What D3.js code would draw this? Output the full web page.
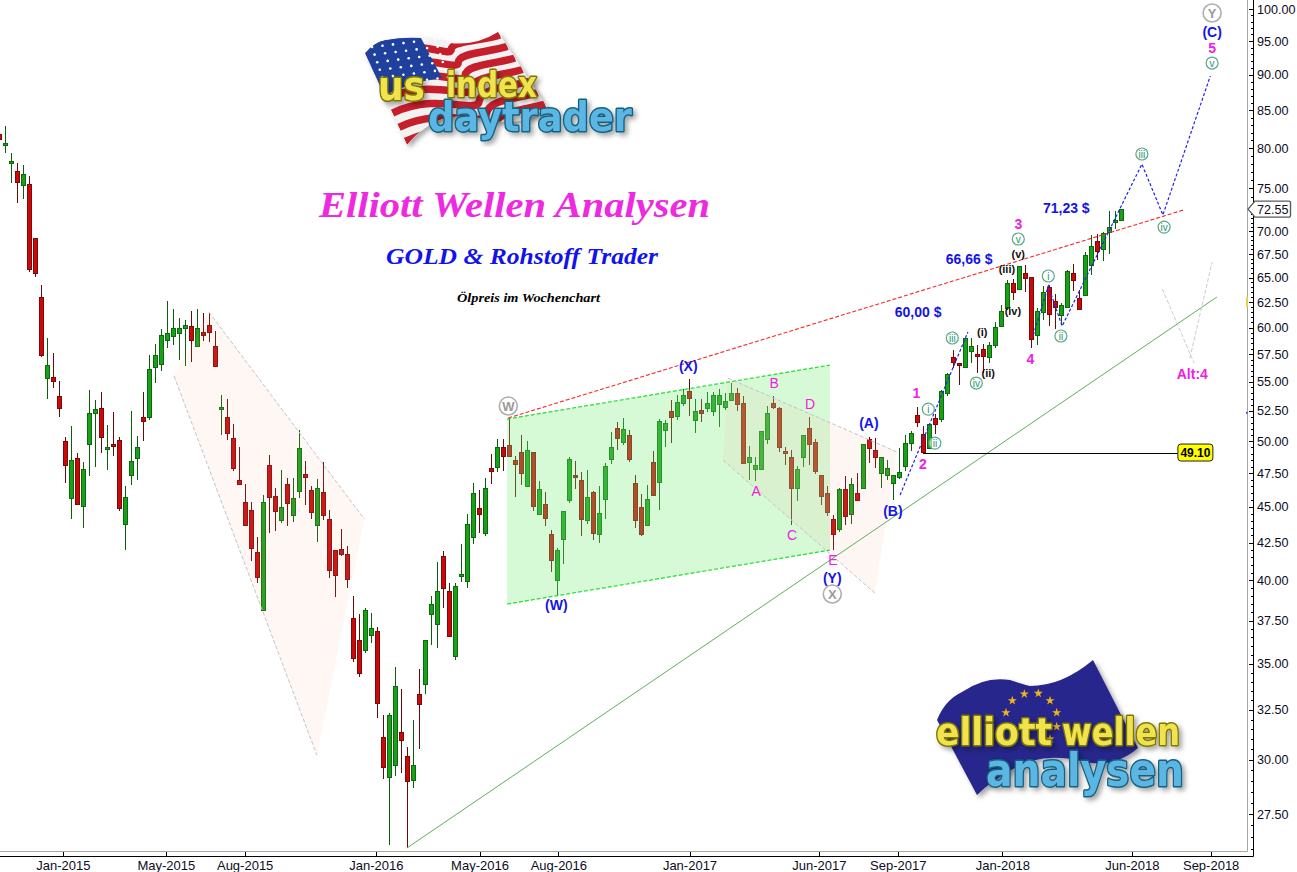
<!DOCTYPE html>
<html><head><meta charset="utf-8">
<script src="https://cdn.jsdelivr.net/npm/d3@7/dist/d3.min.js"></script>
<style>
html,body{margin:0;padding:0;background:#fff;overflow:hidden}
svg{display:block}
.axis text{font-family:"Liberation Sans",Arial,sans-serif;fill:#0c0c24}
.axis path{display:none}
.axis line{stroke:#000;shape-rendering:crispEdges}
</style></head><body>
<svg id="chart" width="1297" height="872"></svg>
<script>
// ---------- data: weekly oil price candles [open, high, low, close] ----------
const firstWeek = "2014-10-19";
const ohlc = [
[81.84,82.76,80.80,81.18],[80.40,82.89,79.38,80.60],[78.11,79.38,75.65,78.36],[77.12,78.11,73.27,75.77],
[75.40,77.86,73.74,76.75],[75.52,76.50,65.59,65.90],[69.26,69.26,65.06,65.48],[63.01,64.23,57.23,57.41],
[55.33,59.00,53.50,56.49],[55.41,57.59,54.45,55.06],[53.76,55.06,51.98,52.73],[50.01,50.33,46.76,48.12],
[45.65,51.23,44.13,48.51],[48.67,49.06,45.13,45.21],[45.06,48.36,43.50,47.82],[49.77,54.28,47.28,52.31],
[52.31,53.41,47.97,52.64],[52.73,54.11,49.06,50.33],[49.38,51.31,47.74,49.53],[49.77,52.39,48.82,49.61],
[50.09,50.33,44.70,44.91],[43.78,46.54,41.99,45.72],[47.36,52.48,46.61,48.43],[48.67,50.41,46.98,49.53],
[51.98,54.11,50.01,51.65],[51.98,57.41,51.73,56.13],[56.31,58.43,54.89,57.41],[56.58,59.86,55.95,59.28],
[58.81,62.61,58.06,59.47],[59.19,61.81,58.34,59.95],[59.47,60.93,56.95,59.95],[59.95,60.73,56.40,60.24],
[60.14,61.61,56.77,58.81],[58.25,61.81,58.15,59.95],[59.57,61.41,58.72,59.28],[60.24,61.41,58.62,59.57],
[58.25,59.66,56.40,56.40],[52.64,53.85,50.49,52.81],[51.98,53.50,50.09,50.66],[50.25,51.40,47.66,47.89],
[46.98,49.53,46.61,46.68],[45.35,46.68,43.64,43.71],[44.77,45.35,41.26,42.13],[41.86,42.88,39.83,40.21],
[38.14,45.87,38.08,45.35],[48.12,48.90,43.15,45.72],[45.79,46.39,43.29,44.70],[44.06,47.74,43.85,44.99],
[46.68,47.13,43.64,45.28],[44.42,47.13,43.92,45.65],[46.17,50.90,45.65,49.46],[47.43,48.43,45.13,47.21],
[46.24,46.54,44.13,44.63],[43.71,47.06,42.53,46.39],[46.09,48.36,44.06,44.42],[44.13,44.77,40.15,40.67],
[41.99,41.99,38.95,40.34],[42.06,43.43,41.59,41.72],[41.72,42.26,39.51,40.08],[37.65,39.01,35.09,35.31],
[36.35,37.89,34.26,34.48],[35.77,38.26,35.60,38.14],[36.64,37.95,36.18,37.05],[36.87,37.11,32.07,32.85],
[31.11,32.23,29.09,29.65],[29.18,32.33,26.16,32.23],[29.75,34.81,29.23,33.77],[31.36,33.60,29.37,30.96],
[30.17,30.62,26.04,29.00],[29.04,31.97,28.67,29.75],[33.33,34.70,30.52,32.80],[33.87,36.35,33.33,36.35],
[37.89,39.01,36.06,38.51],[37.29,41.19,35.89,39.32],[41.59,41.92,38.26,39.51],[39.32,39.83,36.58,36.58],
[35.43,39.83,35.20,39.63],[40.28,42.40,39.90,40.41],[39.96,44.49,39.51,43.78],[42.88,46.76,42.40,46.02],
[44.91,46.24,43.15,44.49],[43.15,47.13,42.95,46.39],[47.89,48.98,46.68,47.66],[47.97,50.17,47.59,49.53],
[49.53,50.17,47.66,48.82],[49.69,51.81,48.74,48.82],[48.51,48.82,45.72,48.20],[49.14,50.49,46.61,47.51],
[46.54,50.01,46.46,49.30],[49.14,49.14,44.70,45.06],[44.49,46.90,44.42,46.31],[45.21,46.09,43.64,44.20],
[43.08,43.36,40.54,41.32],[40.02,42.13,39.07,41.99],[42.74,44.70,41.06,44.70],[45.50,48.74,45.28,48.59],
[47.36,48.43,46.31,47.21],[46.98,47.59,42.95,44.13],[44.06,47.74,43.78,45.72],[46.09,46.17,42.67,43.15],
[43.08,46.54,42.46,44.56],[45.58,48.28,44.13,48.04],[48.59,50.74,48.20,49.53],[51.06,51.56,49.30,50.25],
[49.93,51.90,49.69,50.98],[50.49,50.90,48.36,48.59],[46.76,47.36,43.50,44.06],[44.99,45.94,42.95,43.08],
[43.71,46.61,43.64,45.58],[48.36,49.22,45.79,45.87],[46.83,51.81,44.77,51.65],[50.90,51.73,49.53,51.48],
[52.48,53.41,49.85,51.98],[52.06,53.85,51.73,53.24],[53.16,54.37,52.90,53.85],[54.19,55.24,52.06,53.58],
[51.73,53.50,50.66,52.48],[52.56,53.50,51.56,52.31],[52.73,54.11,52.39,53.16],[52.48,54.11,52.06,53.85],
[53.07,54.37,51.15,53.85],[52.81,54.02,52.56,53.33],[53.41,54.89,53.41,54.02],[54.02,54.45,52.48,53.07],
[53.16,53.76,48.20,48.28],[48.36,49.61,46.98,48.74],[47.82,48.74,46.90,48.12],[47.82,50.82,47.82,50.82],
[50.17,52.90,49.77,52.31],[53.16,53.76,52.64,52.81],[52.73,52.81,49.14,49.53],[49.22,49.53,48.12,49.06],
[48.74,49.30,43.71,46.39],[46.39,48.04,45.43,47.82],[48.74,50.49,47.97,50.49],[51.06,51.98,48.12,49.77],
[49.93,50.17,47.43,47.66],[47.36,47.36,45.13,45.79],[46.02,46.54,44.35,44.63],[44.13,44.42,41.99,43.08],
[43.43,46.39,43.22,46.31],[46.31,47.28,43.71,44.35],[44.49,47.13,43.78,46.68],[46.02,47.51,45.50,45.50],
[46.39,49.77,46.31,49.77],[50.17,50.33,48.28,49.46],[49.30,50.25,47.89,48.74],[47.51,48.74,46.39,48.74],
[47.36,48.51,46.98,47.89],[46.76,47.36,45.50,47.36],[47.21,49.46,47.06,47.59],[48.04,50.49,47.66,49.85],
[49.85,50.82,49.22,50.66],[52.14,52.81,51.15,51.56],[50.57,51.23,48.98,49.14],[49.46,51.40,49.46,51.40],
[51.90,52.23,50.57,51.40],[51.81,54.28,51.56,54.19],[54.02,55.77,53.76,55.68],[57.23,57.87,56.22,56.77],
[56.67,56.67,54.71,56.49],[56.31,59.00,56.22,59.00],[57.78,59.00,56.67,58.25],[57.50,58.34,55.77,57.32],
[57.96,58.43,55.77,57.32],[57.23,58.62,56.67,58.34],[58.34,60.53,58.06,60.05],[60.14,62.21,60.05,61.61],
[61.91,64.75,61.71,64.44],[64.44,64.85,62.71,63.52],[63.82,66.22,63.72,66.22],[65.48,66.33,63.52,64.96],
[65.06,65.06,58.06,58.91],[59.28,61.91,58.34,61.61],[61.51,64.13,60.73,63.52],[64.03,64.23,60.14,61.31],
[62.61,63.32,59.86,62.01],[61.21,62.41,60.34,62.21],[62.01,65.80,62.01,65.69],[65.48,66.43,63.62,64.75],
[62.91,63.72,61.71,61.81],[63.21,67.72,63.11,67.40],[66.33,69.59,65.27,68.38],[68.93,69.70,66.86,67.83],
[68.05,69.92,66.75,69.81],[69.92,72.32,67.50,70.49],[71.06,72.32,70.26,71.29],[71.29,72.55,71.18,72.55]
];
const dateTicks = ["2015-01-01","2015-05-01","2015-08-01","2016-01-01","2016-05-01","2016-08-01","2017-01-01","2017-06-01","2017-09-01","2018-01-01","2018-06-01","2018-09-01"];
const priceTicks = [100,95,90,85,80,75,70,67.5,65,62.5,60,57.5,55,52.5,50,47.5,45,42.5,40,37.5,35,32.5,30,27.5];
const lastPrice = 72.55;
const supportPrice = 49.10;

// annotation geometry, as [week index, price]
const greenChannel = [[84.6,51.81],[138.4,56.49],[138.4,41.99],[84.6,38.51]];
const wedgeOne = [[34.9,61.51],[60.8,44.13],[52.9,30.22],[29.1,55.51]];
const wedgeTwo = [[121.4,55.33],[149.6,49.14],[145.9,39.19],[120.6,48.51]];
const redTrend = [[84.8,51.90],[197.3,72.44]];
const greenTrend = [[67.9,26.04],[202.9,63.01]];
const supportWeeks = [154,196.4];
const waveA = [[150.1,45.87],[161.4,59.57]];
const waveB = [[172.3,59.28],[174.8,64.13],[177.1,60.14],[190.4,77.98],[193.9,71.87],[201.8,89.81]];
const altA = [[193.8,63.82],[199.1,56.67]];
const altB = [[198.4,57.14],[202.1,66.64]];

// labels as [text, week index, price]
const blueLabels = [["(W)",92.8,38.45],["(X)",114.8,56.40],["(Y)",138.8,40.15],["(A)",144.9,51.48],["(B)",148.9,44.70],["(C)",202.1,96.38],
  ["60,00 $",153.1,61.51],["66,66 $",161.6,66.97],["71,23 $",177.8,72.67]];
const magentaLetters = [["A",126.1,46.17],["B",129.1,54.89],["C",132.1,43.01],["D",135.1,53.07],["E",138.9,41.32]];
const magentaNumbers = [["1",152.8,54.02],["2",153.9,48.20],["3",169.8,70.83],["4",171.8,57.05],["5",202.1,93.94],["Alt:4",198.8,55.68]];
const blackLabels = [["(i)",163.8,59.57],["(ii)",164.8,55.77],["(iii)",167.9,65.90],["(iv)",168.9,61.61],["(v)",169.8,67.50]];
const tealCircles = [["i",154.8,52.64],["ii",155.9,49.85],["iii",158.8,59.00],["iv",162.8,54.89],["v",169.8,69.15],["i",174.8,65.17],["ii",176.9,59.19],["iii",190.4,79.25],["iv",194.1,70.49],["v",202.1,91.70]];
const grayCircles = [["W",84.8,52.90],["X",138.8,39.13],["Y",202.1,99.36]];

// ---------- scales ----------
const WEEK = 7*864e5;
const t0 = Date.parse(firstWeek+"T00:00:00Z");
const weekDate = k => new Date(t0 + k*WEEK);
const x = d3.scaleUtc().domain([weekDate(0),weekDate(100)]).range([-0.5,599.5]);
const y = d3.scaleLog().domain([100,27.5]).range([9,814]);
const xw = k => x(weekDate(k));
const line = d3.line().x(d=>xw(d[0])).y(d=>y(d[1]));
const closed = pts => line(pts)+"Z";
const svg = d3.select("#chart");
const sans = '"Liberation Sans",Arial,sans-serif';
const serif = '"Liberation Serif","Times New Roman",serif';

// ---------- candles ----------
const gC = svg.append("g");
const snap = v => Math.round(v-0.5)+0.5;
const candle = gC.selectAll("g").data(ohlc).join("g");
candle.append("line").attr("shape-rendering","crispEdges")
  .attr("x1",(d,i)=>snap(xw(i))).attr("x2",(d,i)=>snap(xw(i)))
  .attr("y1",d=>Math.round(y(d[1]))).attr("y2",d=>Math.round(y(d[2])))
  .attr("stroke",d=>d[3]>=d[0]?"#0b5f0b":"#660a0a").attr("stroke-width",1);
candle.append("rect").attr("shape-rendering","crispEdges")
  .attr("x",(d,i)=>snap(xw(i))-2)
  .attr("width",4)
  .attr("y",d=>Math.round(y(Math.max(d[0],d[3])))+0.5)
  .attr("height",d=>Math.max(1,Math.round(y(Math.min(d[0],d[3])))-Math.round(y(Math.max(d[0],d[3])))))
  .attr("fill",d=>d[3]>=d[0]?"#18a018":"#cc0808")
  .attr("stroke",d=>d[3]>=d[0]?"#0c6a0c":"#7c0a0a");

// ---------- channel and wedges, laid over the candles ----------
svg.append("path").attr("d",closed(greenChannel)).attr("fill","#78f078").attr("fill-opacity",0.3);
svg.append("path").attr("d",closed(wedgeOne)).attr("fill","#f2af94").attr("fill-opacity",0.1);
svg.append("path").attr("d",closed(wedgeTwo)).attr("fill","#f2af94").attr("fill-opacity",0.11);
const dashed=(pts,col,w,da)=>svg.append("path").attr("d",line(pts)).attr("fill","none").attr("stroke",col).attr("stroke-width",w).attr("stroke-dasharray",da);
dashed([greenChannel[0],greenChannel[1]],"#22dd33",1.2,"4 2");
dashed([greenChannel[3],greenChannel[2]],"#22dd33",1.2,"4 2");
const wedgeEdge="#c6c2d0";
dashed([wedgeOne[0],wedgeOne[1]],wedgeEdge,1,"4 2");
dashed([wedgeOne[3],wedgeOne[2]],wedgeEdge,1,"4 2");
dashed([wedgeTwo[0],wedgeTwo[1]],wedgeEdge,1,"4 2");
dashed([wedgeTwo[3],wedgeTwo[2]],wedgeEdge,1,"4 2");
dashed(redTrend,"#f52a2a",1.1,"4 2");
svg.append("path").attr("d",line(greenTrend)).attr("fill","none").attr("stroke","#5fae5f").attr("stroke-width",1);
dashed(waveA,"#2222e6",1.2,"3 2");
dashed(waveB,"#2222e6",1.2,"3 2");
dashed(altA,"#cfc8cf",1,"4 2");
dashed(altB,"#cfc8cf",1,"4 2");

// support line with tag
svg.append("line").attr("x1",xw(supportWeeks[0])).attr("x2",xw(supportWeeks[1]))
  .attr("y1",Math.round(y(supportPrice))+0.5).attr("y2",Math.round(y(supportPrice))+0.5)
  .attr("stroke","#000").attr("stroke-width",1);
const tagX=xw(supportWeeks[1]);
svg.append("rect").attr("x",tagX).attr("y",y(supportPrice)-8.5).attr("width",35).attr("height",17).attr("rx",3)
  .attr("fill","#ffff00").attr("stroke","#222").attr("stroke-width",1);
svg.append("text").attr("x",tagX+17.5).attr("y",y(supportPrice)+4.5).attr("text-anchor","middle")
  .attr("font-family",sans).attr("font-size",12).attr("font-weight","bold").attr("fill","#000").text(supportPrice.toFixed(2));

// ---------- labels ----------
const put=(rows,size,weight,col)=>svg.append("g").selectAll("text").data(rows).join("text")
  .attr("x",d=>xw(d[1])).attr("y",d=>y(d[2])).attr("text-anchor","middle").attr("dy","0.36em")
  .attr("font-family",sans).attr("font-size",size).attr("font-weight",weight).attr("fill",col).text(d=>d[0]);
put(blueLabels,14,"bold","#1414e6");
put(magentaLetters,14,"normal","#f020e0");
put(magentaNumbers,14,"bold","#f020e0");
put(blackLabels,11,"bold","#101010");
svg.append("g").selectAll("circle").data(tealCircles).join("circle")
  .attr("cx",d=>xw(d[1])).attr("cy",d=>y(d[2])).attr("r",6)
  .attr("fill","#fff").attr("fill-opacity",0.6).attr("stroke","#5aa88a").attr("stroke-width",1.2);
put(tealCircles,10,"normal","#2a9468");
svg.append("g").selectAll("circle").data(grayCircles).join("circle")
  .attr("cx",d=>xw(d[1])).attr("cy",d=>y(d[2])).attr("r",9)
  .attr("fill","#fff").attr("stroke","#aeaeae").attr("stroke-width",1.6);
put(grayCircles,13,"bold","#9a9a9a");

// ---------- titles ----------
const title=(t,cx,cy,size,col,w)=>svg.append("text").attr("x",cx).attr("y",cy).attr("text-anchor","middle")
  .attr("font-family",serif).attr("font-size",size).attr("font-weight","bold").attr("font-style","italic").attr("fill",col)
  .attr("textLength",w).attr("lengthAdjust","spacingAndGlyphs").text(t);
title("Elliott Wellen Analysen",514.5,217,36.5,"#ee2ae0",391);
title("GOLD & Rohstoff Trader",522,264,24,"#1212ee",272);
title("Ölpreis im Wochenchart",528.5,302,12.5,"#000",143);

// ---------- axes ----------
svg.append("path").attr("d","M0,851.5H1247.5V0").attr("fill","none").attr("stroke","#a2aaa2").attr("stroke-width",1);
svg.append("path").attr("d","M0,856.5H1253.5V0").attr("fill","none").attr("stroke","#000").attr("stroke-width",1);
const gx=svg.append("g").attr("class","axis").attr("transform","translate(0,851.5)")
  .call(d3.axisBottom(x).tickValues(dateTicks.map(s=>new Date(s+"T00:00:00Z"))).tickFormat(d3.utcFormat("%b-%Y")).tickSize(5).tickPadding(4));
gx.selectAll("text").attr("font-size",13).style("font-size","13px");
const minor=d3.range(28,101).filter(v=>v>=72.5).concat(d3.range(26,72.5,0.5));
svg.append("g").attr("class","axis").attr("transform","translate(1253.5,0)")
  .call(d3.axisLeft(y).tickValues(minor).tickFormat("").tickSize(3));
svg.append("g").attr("class","axis").attr("transform","translate(1253.5,0)")
  .call(d3.axisLeft(y).tickValues(priceTicks).tickFormat("").tickSize(5));
svg.append("g").attr("class","axis").attr("transform","translate(1253.5,0)")
  .call(d3.axisRight(y).tickValues(priceTicks).tickFormat(d3.format(".2f")).tickSize(0).tickPadding(3.5))
  .selectAll("text").style("font-size","12.6px");
// marks on the axis edge
svg.append("rect").attr("x",1246).attr("y",y(62.5)-5).attr("width",2).attr("height",10).attr("fill","#e8cf50");
svg.append("rect").attr("x",1246).attr("y",y(52.5)+1).attr("width",1.5).attr("height",2).attr("fill","#3c3cf0");
// current price tag
const ly=y(lastPrice);
svg.append("path").attr("d",`M1248,${ly}L1255,${ly-8}H1289a1.5,1.5 0 0 1 1.5,1.5V${ly+6.5}a1.5,1.5 0 0 1 -1.5,1.5H1255Z`)
  .attr("fill","#fff").attr("stroke","#5a5a5a").attr("stroke-width",1.4);
svg.append("text").attr("x",1257).attr("y",ly+4.6).attr("font-family",sans).attr("font-size",12.6).attr("fill","#0c0c24").text(lastPrice.toFixed(2));

// ---------- logos (decorative images in the original) ----------
const defs=svg.append("defs");
defs.append("filter").attr("id","sh").attr("x","-10%").attr("y","-10%").attr("width","125%").attr("height","125%")
  .append("feDropShadow").attr("dx",3).attr("dy",3).attr("stdDeviation",2.5).attr("flood-color","#000").attr("flood-opacity",0.35);
const flagD="M365,53Q374,42 385,40Q420,33 450,43Q476,46 498,32L547,107Q520,130 480,118Q445,112 425,128Q415,135 407,145Z";
defs.append("clipPath").attr("id","fc").append("path").attr("d",flagD);
const us=svg.append("g");
us.append("path").attr("d",flagD).attr("fill","#f2f2f2").attr("filter","url(#sh)");
const fl=us.append("g").attr("clip-path","url(#fc)");
d3.range(13).filter(i=>i%2==0).forEach(i=>{
  const t=(i+0.5)/13, sx=365+42*t, sy=53+92*t, ex=498+49*t, ey=32+75*t;
  fl.append("path").attr("d",`M${sx},${sy}C${sx+45},${sy-22} ${sx+85},${sy+2} ${(sx+ex)/2+18},${(sy+ey)/2+4}S${ex-18},${ey+6} ${ex},${ey}`)
    .attr("fill","none").attr("stroke","#c61f2c").attr("stroke-width",7.5);
});
fl.append("path").attr("d","M365,53Q374,42 385,40Q402,37 421,38L442,78Q410,82 381,97Z").attr("fill","#20409e");
d3.range(6).forEach(r=>d3.range(7).forEach(c=>{
  fl.append("circle").attr("cx",372+c*10.5+r*2.6).attr("cy",47-c*1.3+r*7.6).attr("r",1.3).attr("fill","#fff");
}));
const logoText=(g,t,xa,base,size,w,fill,stroke,sw)=>g.append("text").attr("x",xa).attr("y",base)
  .attr("font-family",'"DejaVu Sans",sans-serif').attr("font-weight","bold").attr("font-size",size)
  .attr("textLength",w).attr("lengthAdjust","spacingAndGlyphs")
  .attr("fill",fill).attr("stroke",stroke).attr("stroke-width",sw).attr("paint-order","stroke").attr("stroke-linejoin","round")
  .attr("filter","url(#sh)").text(t);
logoText(us,"us",378,100,40,47,"#f1e34e","#7d7600",3);
logoText(us,"index",446,97,36,91,"#f1e34e","#7d7600",3);
logoText(us,"daytrader",428,131,40,204,"#5cb6e3","#17617f",3);

const eu=svg.append("g");
eu.append("path").attr("d","M937,720Q945,700 962,692Q985,676 1010,680Q1022,684 1030,686Q1062,686 1093,660L1138,748Q1115,768 1085,762Q1040,750 1008,772Q990,782 977,795Z")
  .attr("fill","#27278c").attr("filter","url(#sh)");
[[277,152],[313,132],[355,130],[390,152],[410,188],[410,230],[390,267],[258,188]].forEach(p=>{
  eu.append("path").attr("d",d3.symbol(d3.symbolStar,26)()).attr("transform",`translate(${920+p[0]/3},${650+p[1]/3})`).attr("fill","#f0b418");
});
logoText(eu,"elliott",936,745,37,116,"#f1e34e","#7d7600",3);
logoText(eu,"wellen",1062,745,37,118,"#f1e34e","#7d7600",3);
logoText(eu,"analysen",986,786,46,198,"#5cb6e3","#17617f",3);
</script>
</body></html>
